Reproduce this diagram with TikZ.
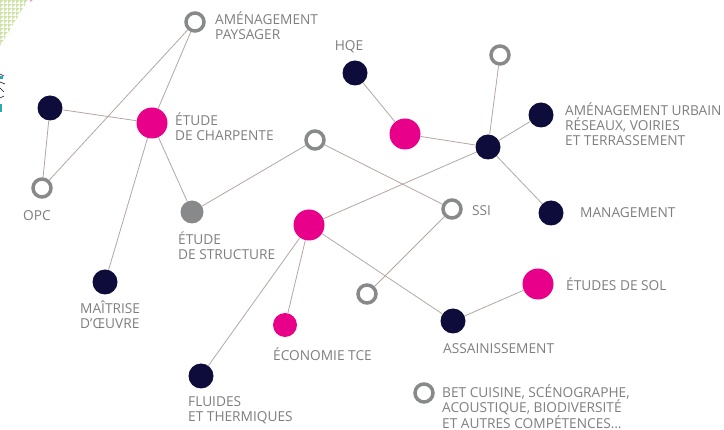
\documentclass[tikz,border=0pt]{standalone}
\usepackage{fontspec}
\setmainfont{Open Sans}
\definecolor{navy}{HTML}{0D0C3A}
\definecolor{magenta}{HTML}{E8008A}
\definecolor{ngrey}{HTML}{87898B}
\definecolor{edgec}{HTML}{B5A6A2}
\definecolor{txt}{HTML}{7E7E7E}
\definecolor{lgreen}{HTML}{CFE3A8}
\definecolor{logoteal}{HTML}{2AA8B8}
\begin{document}
\begin{tikzpicture}[x=1pt,y=-1pt,
  dark/.style={circle,fill=navy,minimum size=25pt,inner sep=0pt},
  pinkb/.style={circle,fill=magenta,minimum size=31pt,inner sep=0pt},
  pinks/.style={circle,fill=magenta,minimum size=24pt,inner sep=0pt},
  hollow/.style={circle,draw=ngrey,line width=3.5pt,minimum size=18pt,inner sep=0pt},
  greyf/.style={circle,fill=ngrey,minimum size=23pt,inner sep=0pt},
  lbl/.style={text=txt,font=\fontsize{13.7}{15.3}\selectfont,align=left,inner sep=0pt},
  edge/.style={draw=edgec,line width=0.8pt}]
\useasboundingbox (0,0) rectangle (724,430);
% decorative triangles
\begin{scope}
\clip (0,0) -- (28,0) -- (0,46) -- cycle;
\foreach \i in {0,...,7}{\foreach \j in {0,...,12}{
  \fill[lgreen] (\i*4,\j*4) -- (\i*4+4,\j*4) -- (\i*4,\j*4+4) -- cycle;}}
\end{scope}
\fill[magenta!40] (30,0) -- (33,0) -- (30,2) -- cycle;
% logo fragment
\draw[navy,line width=0.6pt] (0,74) -- (4,76) (0,82) -- (5,84) (0,88) -- (4,92) (0,98) -- (4,96);
\fill[logoteal] (0,76) rectangle (3,79);
\fill[logoteal] (0,104) rectangle (2,112);
% nodes
\node[hollow] (pays) at (195,22) {};
\node[dark] (hqe) at (355,73) {};
\node[dark] (dl) at (50,108) {};
\node[pinkb] (charp) at (152,123) {};
\node[hollow] (opc) at (42,188) {};
\node[hollow] (h1) at (315,140) {};
\node[hollow] (htop) at (500,55) {};
\node[pinkb] (p2) at (405,134) {};
\node[dark] (hub) at (488,147) {};
\node[dark] (urb) at (541,115) {};
\node[dark] (mgt) at (551,213) {};
\node[greyf] (struct) at (192,212) {};
\node[pinkb] (p3) at (309,225) {};
\node[hollow] (ssi) at (452,209) {};
\node[hollow] (h2) at (367,294) {};
\node[dark] (moe) at (105,282) {};
\node[pinks] (eco) at (285,325) {};
\node[dark] (ass) at (453,321) {};
\node[pinkb] (sol) at (538,284) {};
\node[dark] (flu) at (201,376) {};
\node[hollow] (leg) at (424,393) {};
% edges
\draw[edge] (pays) -- (opc);
\draw[edge] (pays) -- (charp);
\draw[edge] (dl) -- (charp);
\draw[edge] (dl) -- (opc);
\draw[edge] (charp) -- (moe);
\draw[edge] (charp) -- (struct);
\draw[edge] (struct) -- (h1);
\draw[edge] (h1) -- (ssi);
\draw[edge] (hqe) -- (p2);
\draw[edge] (p2) -- (hub);
\draw[edge] (hub) -- (htop);
\draw[edge] (hub) -- (urb);
\draw[edge] (hub) -- (mgt);
\draw[edge] (hub) -- (p3);
\draw[edge] (p3) -- (flu);
\draw[edge] (p3) -- (eco);
\draw[edge] (p3) -- (ass);
\draw[edge] (ssi) -- (h2);
\draw[edge] (ass) -- (sol);
% labels
\node[lbl,anchor=west] (tpays) at (215,25.5) {AMÉNAGEMENT\\PAYSAGER};
\node[lbl] (thqe) at (349,47) {HQE};
\node[lbl,anchor=west] (tcharp) at (175,127) {ÉTUDE\\DE CHARPENTE};
\node[lbl] (topc) at (37,216) {OPC};
\node[lbl,anchor=west] (turb) at (565,124) {AMÉNAGEMENT URBAIN\\RÉSEAUX, VOIRIES\\ET TERRASSEMENT};
\node[lbl,anchor=west] (tmgt) at (580,213) {MANAGEMENT};
\node[lbl,anchor=west] (tstruct) at (178,245.5) {ÉTUDE\\DE STRUCTURE};
\node[lbl,anchor=west] (tssi) at (472,211) {SSI};
\node[lbl,anchor=west] (tmoe) at (80,315) {MAÎTRISE\\D’ŒUVRE};
\node[lbl,anchor=west] (teco) at (273,354) {ÉCONOMIE TCE};
\node[lbl,anchor=west] (tass) at (443,349) {ASSAINISSEMENT};
\node[lbl,anchor=west] (tsol) at (566,284) {ÉTUDES DE SOL};
\node[lbl,anchor=west] (tflu) at (188,410) {FLUIDES\\ET THERMIQUES};
\node[lbl,anchor=west] (tleg) at (442,406.5) {BET CUISINE, SCÉNOGRAPHE,\\ACOUSTIQUE, BIODIVERSITÉ\\ET AUTRES COMPÉTENCES…};
\end{tikzpicture}
\end{document}
